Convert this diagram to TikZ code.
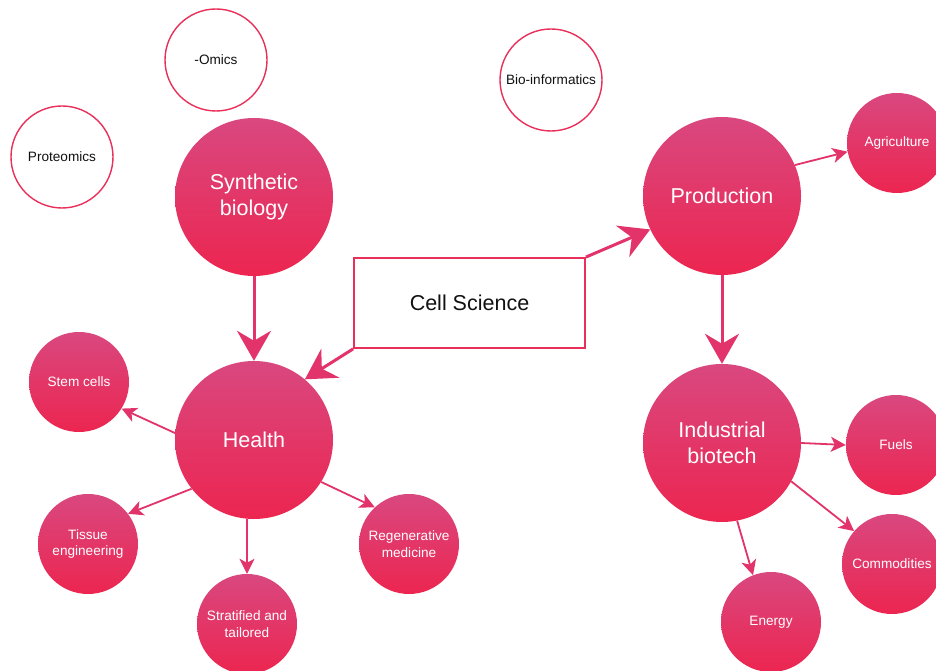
\documentclass[tikz,border=0pt]{standalone}
\usepackage{fontspec}
\setmainfont{Liberation Sans}
\usetikzlibrary{arrows.meta}

\definecolor{bubtop}{HTML}{D9487F}
\definecolor{bubbot}{HTML}{EC2550}
\definecolor{ringred}{HTML}{E8305A}
\definecolor{linkred}{HTML}{E2336A}
\definecolor{inktext}{HTML}{111111}

\tikzset{
  bigfont/.style={font=\fontsize{21.5}{26}\selectfont},
  smallfont/.style={font=\fontsize{13.6}{16.7}\selectfont},
  bubble/.style={circle, inner sep=0pt, align=center, text=white,
    top color=bubtop, bottom color=bubbot, draw=none},
  bigbubble/.style={bubble, minimum size=158pt, bigfont},
  smallbubble/.style={bubble, minimum size=100pt, smallfont},
  ring/.style={circle, inner sep=0pt, minimum size=102pt, draw=ringred,
    line width=1.4pt, fill=white, text=inktext, smallfont},
  conceptbox/.style={rectangle, draw=ringred, line width=1.8pt,
    minimum width=231pt, minimum height=90pt, inner sep=0pt, text=inktext, bigfont},
  bigarrow/.style={draw=linkred, line width=3pt,
    -{Stealth[length=30pt, width=34pt, inset=10pt]}},
  smallarrow/.style={draw=linkred, line width=1.8pt,
    -{Stealth[length=15pt, width=15pt, inset=4pt]}}
}

\begin{document}
\begin{tikzpicture}[x=1pt, y=1pt]
  \useasboundingbox (0,0) rectangle (936,671);
  \fill[white] (0,0) rectangle (936,671);
  \begin{scope}
  \clip (0,0) rectangle (936,671);

  % outline bubbles
  \node[ring] (omics)  at (216,611) {-Omics};
  \node[ring] (proteo) at (62,514)  {Proteomics};
  \node[ring] (bioinf) at (551,591) {Bio-informatics};

  % main themes
  \node[bigbubble] (synth)  at (254,474) {Synthetic\\biology};
  \node[bigbubble] (health) at (254,231) {Health};
  \node[bigbubble] (prod)   at (722,475) {Production};
  \node[bigbubble] (indus)  at (722,228) {Industrial\\biotech};

  % central concept
  \node[conceptbox] (cell) at (469.5,368) {Cell Science};

  % health applications
  \node[smallbubble] (stem)   at (79,289)  {Stem cells};
  \node[smallbubble] (tissue) at (88,127)  {Tissue\\engineering};
  \node[smallbubble] (strat)  at (247,47)  {Stratified and\\tailored};
  \node[smallbubble] (regen)  at (409,127) {Regenerative\\medicine};

  % production outputs
  \node[smallbubble] (agri)   at (897,528) {Agriculture};
  \node[smallbubble] (fuels)  at (896,226) {Fuels};
  \node[smallbubble] (commod) at (892,107) {Commodities};
  \node[smallbubble] (energy) at (771,49)  {Energy};

  % thick links
  \draw[bigarrow] (synth.south) -- (health.north);
  \draw[bigarrow] (prod.south) -- (indus.north);
  \draw[bigarrow] (cell.south west) -- (health.50);
  \draw[bigarrow] (cell.north east) -- (prod.205);

  % thin links
  \draw[smallarrow] (health.175) -- (stem.-32);
  \draw[smallarrow] (health.218) -- (tissue.37);
  \draw[smallarrow] (health.265) -- (strat.90);
  \draw[smallarrow] (health.-32) -- (regen.133);
  \draw[smallarrow] (prod.23) -- (agri.190);
  \draw[smallarrow] (indus.0) -- (fuels.180);
  \draw[smallarrow] (indus.-29.5) -- (commod.139);
  \draw[smallarrow] (indus.-79) -- (energy.111);
  \end{scope}
\end{tikzpicture}
\end{document}
